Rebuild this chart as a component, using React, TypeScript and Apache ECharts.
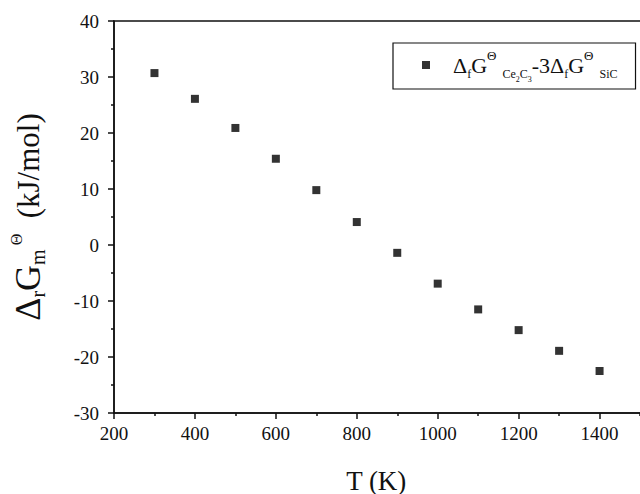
import React, { useEffect, useRef } from "react";
import * as echarts from "echarts";

const temperatures = [300, 400, 500, 600, 700, 800, 900, 1000, 1100, 1200, 1300, 1400];
const deltaG = [30.7, 26.1, 20.9, 15.4, 9.8, 4.1, -1.4, -6.9, -11.5, -15.2, -18.9, -22.5];
const seriesName = "ΔfGΘCe2C3-3ΔfGΘSiC";
const xTitle = "T (K)";
const xLabelMax = 1400;

const FONT = "Liberation Serif";
const INK = "#111";

export default function App() {
  const ref = useRef<HTMLDivElement>(null);
  useEffect(() => {
    const chart = echarts.init(ref.current!, null, { renderer: "svg" });
    const lineStyle = { color: INK, width: 1.5 };
    chart.setOption({
      animation: false,
      textStyle: { fontFamily: FONT },
      grid: {
        left: 114,
        top: 21,
        height: 392,
        width: 566.5,
        outerBoundsMode: "none",
        show: true,
        borderColor: INK,
        borderWidth: 1.5,
      },
      legend: {
        left: 393,
        top: 43,
        padding: [6, 18, 6, 29],
        borderColor: INK,
        borderWidth: 1.2,
        itemWidth: 8,
        itemHeight: 8,
        icon: "rect",
        itemStyle: { color: "#000" },
        formatter: () =>
          "{gap| }{M|Δ}{sub|f}{M|G}{sup|Θ}{sub|  Ce}{sub2|2}{sub|C}{sub2|3}{M|-3Δ}{sub|f}{M|G}{sup|Θ}{sub|  SiC}",
        textStyle: {
          fontFamily: FONT,
          color: INK,
          rich: {
            gap: { width: 18, fontSize: 10 },
            M: { fontSize: 22, lineHeight: 38, verticalAlign: "middle", fontFamily: FONT, color: INK },
            sub: { fontSize: 12, verticalAlign: "bottom", padding: [0, 0, 4, 0], fontFamily: FONT, color: INK },
            sub2: { fontSize: 8, verticalAlign: "bottom", padding: [0, 0, 1, 0], fontFamily: FONT, color: INK },
            sup: { fontSize: 13, verticalAlign: "top", padding: [3, 0, 0, 0], fontFamily: FONT, color: INK },
          },
        },
      },
      xAxis: {
        type: "value",
        min: 200,
        max: 1600,
        interval: 200,
        axisLine: { onZero: false, lineStyle },
        axisTick: { length: 6, lineStyle },
        minorTick: { show: true, splitNumber: 2, length: 3, lineStyle },
        splitLine: { show: false },
        axisLabel: {
          color: INK,
          fontSize: 19,
          fontFamily: FONT,
          margin: 11,
          formatter: (v: number) => (v > xLabelMax ? "" : String(v)),
        },
        name: xTitle,
        nameLocation: "middle",
        nameGap: 54,
        nameTextStyle: { fontSize: 27, fontFamily: FONT, color: INK, padding: [0, 42, 0, 0] },
      },
      yAxis: {
        type: "value",
        min: -30,
        max: 40,
        interval: 10,
        axisLine: { show: true, onZero: false, lineStyle },
        axisTick: { show: true, length: 6, lineStyle },
        minorTick: { show: true, splitNumber: 2, length: 3, lineStyle },
        splitLine: { show: false },
        axisLabel: { color: INK, fontSize: 19, fontFamily: FONT, margin: 15, formatter: (v: number) => String(v) },
        name: "{M|Δ}{s|r}{M|G}{s|m}{sp| Θ}{u|  (kJ/mol)}",
        nameLocation: "middle",
        nameGap: 63,
        nameTextStyle: {
          fontFamily: FONT,
          color: INK,
          rich: {
            M: { fontSize: 36, lineHeight: 46, verticalAlign: "middle", fontFamily: FONT, color: INK },
            s: { fontSize: 20, verticalAlign: "bottom", padding: [0, 0, 3, 0], fontFamily: FONT, color: INK },
            sp: { fontSize: 16, verticalAlign: "top", padding: [3, 0, 0, 0], fontFamily: FONT, color: INK },
            u: { fontSize: 31, verticalAlign: "middle", fontFamily: FONT, color: INK },
          },
        },
      },
      series: [
        {
          name: seriesName,
          type: "scatter",
          symbol: "rect",
          symbolSize: 8,
          itemStyle: { color: "#000" },
          data: temperatures.map((t, i) => [t, deltaG[i]]),
        },
      ],
    });
    return () => chart.dispose();
  }, []);
  return (
    <div
      ref={ref}
      style={{ position: "fixed", left: 0, top: 0, width: 640, height: 494, background: "#fff" }}
    />
  );
}
